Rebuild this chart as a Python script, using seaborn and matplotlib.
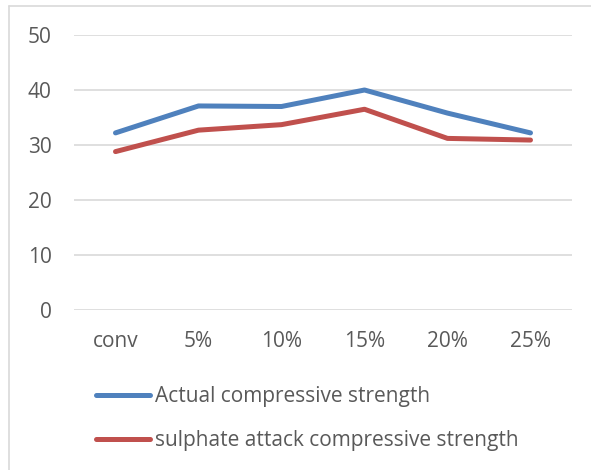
import matplotlib
matplotlib.use("Agg")
import matplotlib.pyplot as plt
from matplotlib.lines import Line2D
import seaborn as sns
import pandas as pd

categories = ["conv", "5%", "10%", "15%", "20%", "25%"]
actual = [32.2, 37.1, 37.0, 40.0, 35.8, 32.2]
sulphate = [28.8, 32.7, 33.7, 36.5, 31.2, 30.9]
series_names = ["Actual compressive strength", "sulphate attack compressive strength"]
y_ticks = [0, 10, 20, 30, 40, 50]

sns.set_theme(style="white")
plt.rcParams["font.family"] = ["Open Sans", "DejaVu Sans"]

df = pd.DataFrame({
    "mix": categories * 2,
    "strength": actual + sulphate,
    "series": [series_names[0]] * len(categories) + [series_names[1]] * len(categories),
})

colors = ["#4F81BD", "#C0504D"]
text_color = "#595959"
fs = 15

fig = plt.figure(figsize=(5.91, 4.70), dpi=100)
ax = fig.add_axes([74 / 591, 1 - 310 / 470, (572 - 74) / 591, (310 - 35) / 470])

sns.lineplot(data=df, x="mix", y="strength", hue="series", palette=colors,
             sort=False, linewidth=3.6, ax=ax, legend=False)
for ln in ax.lines:
    ln.set_solid_capstyle("round")
    ln.set_solid_joinstyle("round")

ax.set_xlim(-0.5, len(categories) - 0.5)
ax.set_ylim(0, 50)
ax.set_yticks(y_ticks)
ax.set_yticklabels([str(v) for v in y_ticks])
ax.grid(axis="y", color="#d9d9d9", linewidth=1.2)
ax.set_axisbelow(True)
for s in ax.spines.values():
    s.set_visible(False)
ax.tick_params(axis="both", length=0, labelsize=fs, labelcolor=text_color)
ax.tick_params(axis="y", pad=16)
ax.tick_params(axis="x", pad=15)
ax.set_xlabel("")
ax.set_ylabel("")

handles = [Line2D([0], [0], color=c, linewidth=3.6, solid_capstyle="round") for c in colors]
leg = fig.legend(handles, series_names, loc="upper left",
                 bbox_to_anchor=(96 / 591, 1 - 386 / 470), frameon=False,
                 borderpad=0, borderaxespad=0,
                 handlelength=2.6, handletextpad=0.22, labelspacing=1.1,
                 fontsize=fs, labelcolor=text_color)

# outer frame lines along top and left
fig.add_artist(Line2D([9 / 591, 1], [1 - 6 / 470, 1 - 6 / 470], color="#d9d9d9",
                      linewidth=1.2, transform=fig.transFigure))
fig.add_artist(Line2D([9 / 591, 9 / 591], [0, 1 - 6 / 470], color="#d9d9d9",
                      linewidth=1.2, transform=fig.transFigure))

fig.savefig("out.png", dpi=100, facecolor="white")
